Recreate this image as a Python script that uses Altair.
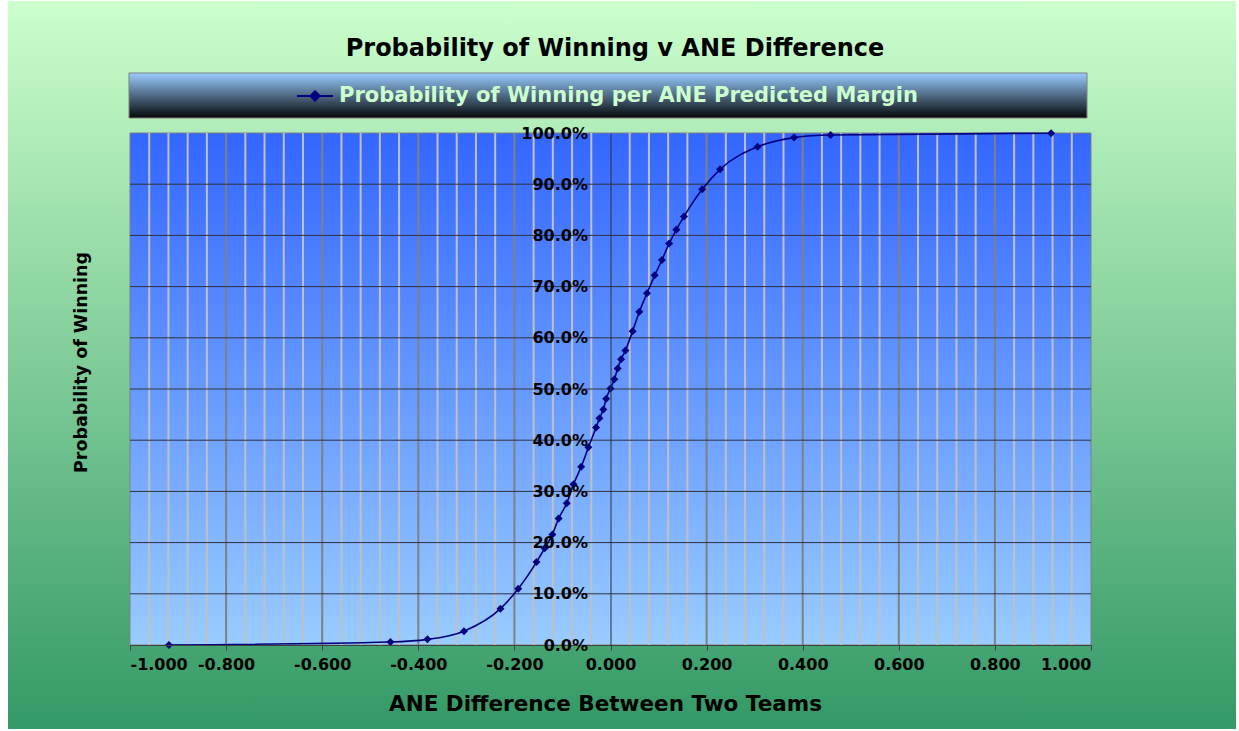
import altair as alt
import pandas as pd

# ---- data ----
ane_diff = [-0.919, -0.458, -0.381, -0.305, -0.229, -0.192, -0.154, -0.137, -0.121,
            -0.108, -0.091, -0.077, -0.061, -0.046, -0.030, -0.023, -0.015, -0.009,
            0.000,
            0.008, 0.015, 0.022, 0.031, 0.046, 0.060, 0.076, 0.092, 0.107,
            0.122, 0.137, 0.153, 0.191, 0.228, 0.306, 0.382, 0.458, 0.917]
win_prob = [0.000, 0.006, 0.011, 0.027, 0.071, 0.110, 0.162, 0.189, 0.216,
            0.247, 0.277, 0.314, 0.348, 0.386, 0.425, 0.443, 0.460, 0.481,
            0.501,
            0.519, 0.540, 0.558, 0.575, 0.613, 0.651, 0.687, 0.722, 0.752,
            0.784, 0.811, 0.837, 0.890, 0.929, 0.973, 0.991, 0.996, 0.9995]
series_name = "Probability of Winning per ANE Predicted Margin"

x_ticks = [-1.0, -0.8, -0.6, -0.4, -0.2, 0.0, 0.2, 0.4, 0.6, 0.8, 1.0]
x_minor_grid = [-0.96, -0.92, -0.88, -0.84, -0.76, -0.72, -0.68, -0.64, -0.56, -0.52,
                -0.48, -0.44, -0.36, -0.32, -0.28, -0.24, -0.16, -0.12, -0.08, -0.04,
                0.04, 0.08, 0.12, 0.16, 0.24, 0.28, 0.32, 0.36, 0.44, 0.48, 0.52,
                0.56, 0.64, 0.68, 0.72, 0.76, 0.84, 0.88, 0.92, 0.96]
x_major_grid = [-0.8, -0.6, -0.4, -0.2, 0.2, 0.4, 0.6, 0.8]
y_ticks = [0.0, 0.1, 0.2, 0.3, 0.4, 0.5, 0.6, 0.7, 0.8, 0.9, 1.0]
y_grid = [0.1, 0.2, 0.3, 0.4, 0.5, 0.6, 0.7, 0.8, 0.9]

chart_title = "Probability of Winning v ANE Difference"
x_title = "ANE Difference Between Two Teams"
y_title = "Probability of Winning"

# ---- layout / style ----
FONT = "DejaVu Sans"
NAVY = "#000080"
W, H = 961, 512
PL, PT = 130, 133
PR, PB = 1239 - PL - W, 731 - PT - H

df = pd.DataFrame({"ane": ane_diff, "prob": win_prob, "series": [series_name] * len(ane_diff)})
one = alt.Data(values=[{}])

x_scale = alt.Scale(domain=[-1, 1], nice=False, zero=False)
y_scale = alt.Scale(domain=[0, 1], nice=False)


def vgrad(c0, c1):
    return alt.LinearGradient(
        gradient="linear",
        stops=[alt.GradientStop(color=c0, offset=0), alt.GradientStop(color=c1, offset=1)],
        x1=0, x2=0, y1=0, y2=1,
    )


bg = alt.Chart(one).mark_rect(fill=vgrad("#CCFFCC", "#339966")).encode(
    x=alt.value(8 - PL), x2=alt.value(1236 - PL), y=alt.value(1 - PT), y2=alt.value(729 - PT)
)
plot_bg = alt.Chart(one).mark_rect(fill=vgrad("#3366FF", "#99CCFF"), stroke="#808080", strokeWidth=1).encode(
    x=alt.value(0), x2=alt.value(W), y=alt.value(0), y2=alt.value(H)
)
legend_bg = alt.Chart(one).mark_rect(fill=vgrad("#99CCFF", "#050808"), stroke="#808080", strokeWidth=1).encode(
    x=alt.value(129 - PL), x2=alt.value(1087 - PL), y=alt.value(73 - PT), y2=alt.value(118 - PT)
)

grid_minor = alt.Chart(pd.DataFrame({"ane": x_minor_grid})).mark_rule(color="#C0C0C0", strokeWidth=2).encode(
    x=alt.X("ane:Q", scale=x_scale)
)
grid_major = alt.Chart(pd.DataFrame({"ane": x_major_grid})).mark_rule(color="#808080", strokeWidth=2).encode(
    x=alt.X("ane:Q", scale=x_scale)
)
grid_h = alt.Chart(pd.DataFrame({"prob": y_grid})).mark_rule(color="#303040", strokeWidth=1).encode(
    y=alt.Y("prob:Q", scale=y_scale)
)

x_axis = alt.Axis(
    values=x_ticks, grid=False, title=x_title, zindex=2,
    labelExpr="(datum.value < -0.0001 ? '-' : '') + format(abs(datum.value), '.3f')",
    labelFont=FONT, labelFontSize=16, labelFontWeight="bold", labelColor="black",
    labelPadding=6, tickSize=5, tickColor="#404040", domainColor="#404040",
    titleFont=FONT, titleFontSize=21.5, titleFontWeight="bold", titleColor="black",
    titleX=475, titleY=65, titleBaseline="alphabetic", titleAlign="center",
)
y_axis = alt.Axis(
    values=y_ticks, format=".1%", grid=False, title=y_title, offset=-(W / 2), zindex=2,
    labelFont=FONT, labelFontSize=16, labelFontWeight="bold", labelColor="black",
    labelPadding=23, ticks=False, domainColor="#303030",
    titleFont=FONT, titleFontSize=17.5, titleFontWeight="bold", titleColor="black",
    titleAngle=270, titleX=86 - (PL + W / 2), titleY=362 - PT,
    titleBaseline="alphabetic", titleAlign="center",
)

legend_symbol = "M-1,0H1M0,-0.26L0.26,0L0,0.26L-0.26,0Z"
line = alt.Chart(df).mark_line(interpolate="monotone", strokeWidth=1.6).encode(
    x=alt.X("ane:Q", scale=x_scale, axis=x_axis),
    y=alt.Y("prob:Q", scale=y_scale, axis=y_axis),
    color=alt.Color(
        "series:N", scale=alt.Scale(range=[NAVY]),
        legend=alt.Legend(
            title=None, orient="none", legendX=166, legendY=95 - 18 - PT, padding=0,
            symbolType=legend_symbol, symbolSize=1296, symbolStrokeWidth=2,
            symbolFillColor=NAVY, symbolStrokeColor=NAVY,
            labelFont=FONT, labelFontSize=21, labelFontWeight="bold", labelColor="#CCFFCC",
            labelOffset=5, labelLimit=1000,
        ),
    ),
)
points = alt.Chart(df).mark_point(shape="diamond", filled=True, size=64, color=NAVY, opacity=1).encode(
    x=alt.X("ane:Q", scale=x_scale), y=alt.Y("prob:Q", scale=y_scale)
)
title = alt.Chart(one).mark_text(
    text=chart_title, font=FONT, fontSize=24, fontWeight="bold", color="black",
    align="center", baseline="alphabetic",
).encode(x=alt.value(615 - PL), y=alt.value(56 - PT))

chart = alt.layer(bg, plot_bg, legend_bg, grid_minor, grid_major, grid_h, line, points, title).properties(
    width=W, height=H,
    padding={"left": PL, "top": PT, "right": PR, "bottom": PB},
    autosize=alt.AutoSizeParams(type="none"),
    background="white",
).configure_view(stroke=None)

chart.save("out.html", embed_options={"renderer": "svg", "actions": False})
